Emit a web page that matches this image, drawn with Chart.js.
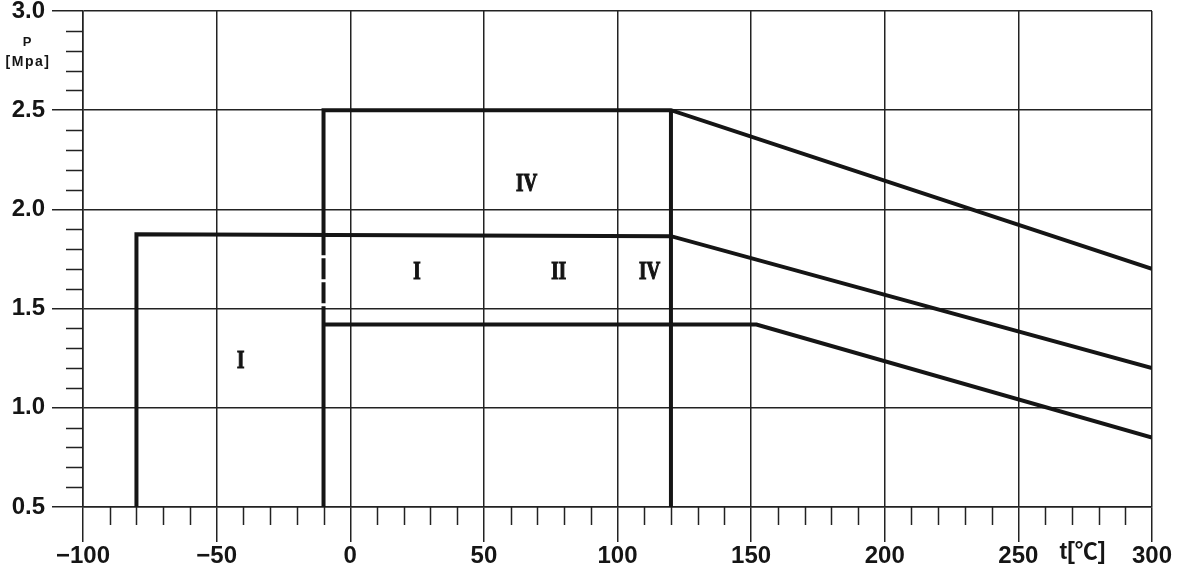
<!DOCTYPE html>
<html>
<head>
<meta charset="utf-8">
<style>
  html, body { margin: 0; padding: 0; background: #fff; }
  canvas { display: block; }
</style>
<script src="https://cdn.jsdelivr.net/npm/chart.js@4/dist/chart.umd.min.js"></script>
</head>
<body>
<canvas id="myChart" width="1180" height="570"></canvas>
<script>
// tick labels
const tempTicks = [-100, -50, 0, 50, 100, 150, 200, 250, 300];
const pressTicks = [0.5, 1.0, 1.5, 2.0, 2.5, 3.0];

// boundary lines (t in °C, P in MPa)
const outerT = [-80, -80, 120, 300];
const outerP = [0.5, 1.875, 1.865, 1.2];
const wallT = [-10, -10];
const wallP = [0.5, 1.5];
const gapT = [-10, -10];
const gapP = [1.875, 1.5];
const upperT = [-10, -10, 120, 300];
const upperP = [1.875, 2.5, 2.5, 1.7];
const lowerT = [-10, 152, 300];
const lowerP = [1.42, 1.42, 0.85];
const limitT = [120, 120];
const limitP = [0.5, 2.5];

// zone names
const zoneNames = ['IV', 'I', 'II', 'IV', 'I'];
const zoneT = [66, 25, 78, 112, -41];
const zoneP = [2.13, 1.685, 1.685, 1.685, 1.24];

const INK = '#151515';
const GRID = '#222';
const TICK_FONT = { family: '"Liberation Sans", Arial, sans-serif', size: 24, weight: 'bold' };

function pts(xs, ys) {
    return xs.map((x, i) => ({ x: x, y: ys[i] }));
}

function lineSet(xs, ys, dash) {
    return {
        data: pts(xs, ys),
        showLine: true,
        pointRadius: 0,
        borderColor: INK,
        borderWidth: 4,
        borderDash: dash || [],
        borderJoinStyle: 'miter',
        fill: false,
    };
}

// no label overflow padding, the layout padding decides the plot box
function noPad(scale) {
    scale.paddingTop = 0;
    scale.paddingBottom = 0;
    scale.paddingLeft = 0;
    scale.paddingRight = 0;
}

// minor ticks, axis titles and zone names
const decorPlugin = {
    id: 'decor',
    afterDraw(chart) {
        const ctx = chart.ctx;
        const xs = chart.scales.x;
        const ys = chart.scales.y;
        ctx.save();
        ctx.strokeStyle = GRID;
        ctx.lineWidth = 1.5;
        ctx.beginPath();
        for (let v = -90; v < 300; v += 10) {
            if (v % 50 === 0) continue;
            const px = Math.round(xs.getPixelForValue(v)) + 0.5;
            ctx.moveTo(px, ys.bottom);
            ctx.lineTo(px, ys.bottom + 18);
        }
        for (let k = 6; k < 30; k++) {
            if (k % 5 === 0) continue;
            const py = Math.round(ys.getPixelForValue(k / 10)) + 0.5;
            ctx.moveTo(xs.left, py);
            ctx.lineTo(xs.left - 17, py);
        }
        ctx.stroke();

        ctx.fillStyle = INK;
        ctx.textAlign = 'center';
        ctx.textBaseline = 'middle';
        ctx.font = 'bold 13px "Liberation Sans", Arial, sans-serif';
        ctx.fillText('P', 27, 42);
        ctx.letterSpacing = '1.5px';
        ctx.font = 'bold 14px "Liberation Sans", Arial, sans-serif';
        ctx.fillText('[Mpa]', 28, 62);
        ctx.letterSpacing = '0px';

        ctx.font = 'bold 23px "Liberation Sans", "Noto Sans CJK SC", sans-serif';
        ctx.fillText('t[\u2103]', xs.getPixelForValue(274), ys.bottom + 46);

        ctx.font = 'bold 25px "Liberation Serif", "Times New Roman", serif';
        ctx.strokeStyle = INK;
        ctx.lineWidth = 1.2;
        zoneNames.forEach((name, i) => {
            const px = xs.getPixelForValue(zoneT[i]);
            const py = ys.getPixelForValue(zoneP[i]);
            ctx.save();
            ctx.translate(px, py);
            ctx.scale(0.76, 1);
            ctx.fillText(name, 0, 1);
            ctx.strokeText(name, 0, 1);
            ctx.restore();
        });
        ctx.restore();
    },
};

document.addEventListener('DOMContentLoaded', function () {
    const ctx = document.getElementById('myChart').getContext('2d');
    new Chart(ctx, {
        type: 'scatter',
        data: {
            datasets: [
                lineSet(outerT, outerP),
                lineSet(wallT, wallP),
                lineSet(gapT, gapP, [21, 3]),
                lineSet(upperT, upperP),
                lineSet(lowerT, lowerP),
                lineSet(limitT, limitP),
            ],
        },
        options: {
            responsive: false,
            animation: false,
            devicePixelRatio: 1,
            layout: { padding: { top: 11, right: 28, left: 0, bottom: 0 } },
            plugins: {
                legend: { display: false },
                tooltip: { enabled: false },
            },
            scales: {
                x: {
                    type: 'linear',
                    min: -100,
                    max: 300,
                    afterBuildTicks: (scale) => {
                        scale.ticks = tempTicks.map((v) => ({ value: v }));
                    },
                    afterFit: (scale) => { scale.height = 63; noPad(scale); },
                    grid: { color: GRID, lineWidth: 1.5, tickLength: 35, tickColor: GRID },
                    border: { display: true, color: GRID, width: 1.5 },
                    ticks: {
                        color: INK,
                        padding: 0,
                        maxRotation: 0,
                        font: TICK_FONT,
                        callback: (v) => (v < 0 ? '\u2212' + Math.abs(v) : String(v)),
                    },
                },
                y: {
                    type: 'linear',
                    min: 0.5,
                    max: 3.0,
                    afterBuildTicks: (scale) => {
                        scale.ticks = pressTicks.map((v) => ({ value: v }));
                    },
                    afterFit: (scale) => { scale.width = 83; noPad(scale); },
                    grid: { color: GRID, lineWidth: 1.5, tickLength: 31, tickColor: GRID },
                    border: { display: true, color: GRID, width: 1.5 },
                    ticks: {
                        color: INK,
                        padding: 7,
                        font: TICK_FONT,
                        callback: (v) => Number(v).toFixed(1),
                    },
                },
            },
        },
        plugins: [decorPlugin],
    });
});
</script>
</body>
</html>
